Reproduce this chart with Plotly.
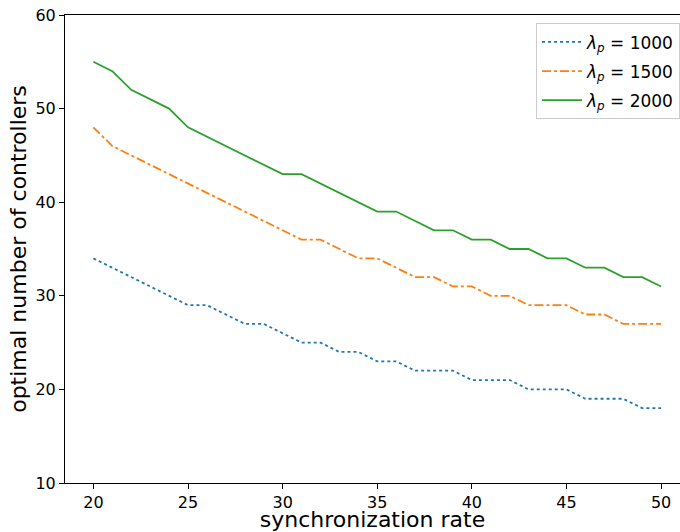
import plotly.graph_objects as go

sync_rate = list(range(20, 51))
ctrl_1000 = [34, 33, 32, 31, 30, 29, 29, 28, 27, 27, 26, 25, 25, 24, 24, 23, 23, 22, 22, 22,
             21, 21, 21, 20, 20, 20, 19, 19, 19, 18, 18]
ctrl_1500 = [48, 46, 45, 44, 43, 42, 41, 40, 39, 38, 37, 36, 36, 35, 34, 34, 33, 32, 32, 31,
             31, 30, 30, 29, 29, 29, 28, 28, 27, 27, 27]
ctrl_2000 = [55, 54, 52, 51, 50, 48, 47, 46, 45, 44, 43, 43, 42, 41, 40, 39, 39, 38, 37, 37,
             36, 36, 35, 35, 34, 34, 33, 33, 32, 32, 31]
labels = ["1000", "1500", "2000"]
x_ticks = [20, 25, 30, 35, 40, 45, 50]
y_ticks = [10, 20, 30, 40, 50, 60]

series = [
    (ctrl_1000, labels[0], "#1f77b4", "dot"),
    (ctrl_1500, labels[1], "#ff7f0e", "dashdot"),
    (ctrl_2000, labels[2], "#2ca02c", "solid"),
]

fig = go.Figure()
for ys, lab, col, dash in series:
    fig.add_trace(go.Scatter(
        x=sync_rate, y=ys, mode="lines",
        name="<i>λ</i><sub><i>p</i></sub> = " + lab,
        legendgroup=lab,
        line=dict(color=col, dash=dash, width=1.8),
    ))

font_family = "DejaVu Sans"
fig.update_layout(
    width=680, height=532,
    margin=dict(l=65, r=0, t=15, b=49),
    paper_bgcolor="white", plot_bgcolor="white",
    font=dict(family=font_family, size=16, color="black"),
    showlegend=True,
    legend=dict(
        x=1, xanchor="right", y=0.982, yanchor="top",
        bgcolor="rgba(255,255,255,0.8)", bordercolor="#cccccc", borderwidth=1,
        font=dict(size=17, family=font_family),
        tracegroupgap=4, itemwidth=40,
    ),
    xaxis=dict(
        range=[18.5, 51.0], tickvals=x_ticks, ticktext=[str(v) for v in x_ticks],
        showgrid=False, zeroline=False,
        showline=True, linecolor="black", linewidth=1, mirror=True,
        ticks="outside", ticklen=5, tickcolor="black",
        tickfont=dict(size=16),
        title=dict(text="synchronization rate", font=dict(size=22), standoff=4),
        automargin=False,
    ),
    yaxis=dict(
        range=[10, 60], tickvals=y_ticks, ticktext=[str(v) for v in y_ticks],
        showgrid=False, zeroline=False,
        showline=True, linecolor="black", linewidth=1,
        ticks="outside", ticklen=5, tickcolor="black",
        tickfont=dict(size=16),
        title=dict(text="optimal number of controllers", font=dict(size=22), standoff=2),
        automargin=False,
    ),
)

fig.write_html("out.html")
